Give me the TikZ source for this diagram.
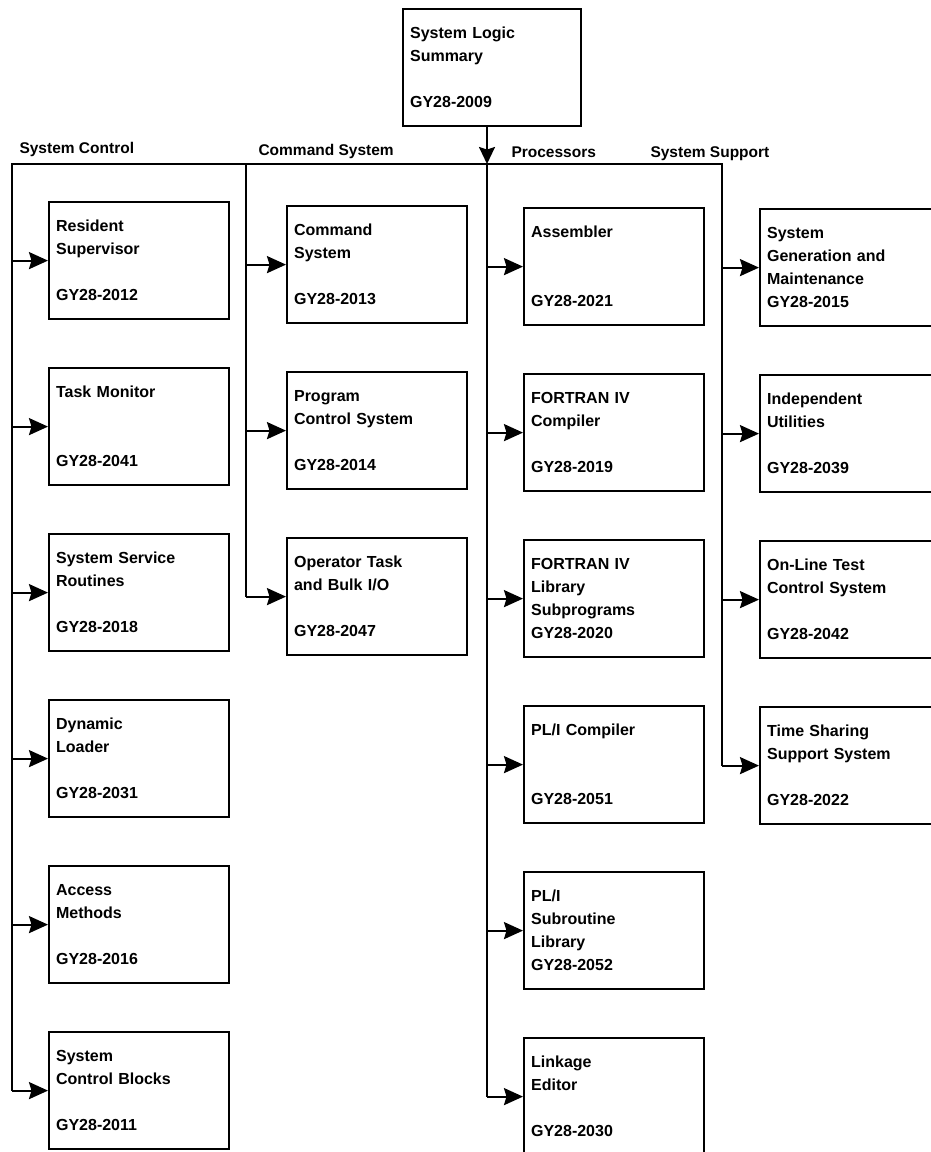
\documentclass[tikz,border=0pt]{standalone}
\usepackage{fontspec}
\setmainfont{Liberation Sans}
\usetikzlibrary{arrows.meta,positioning}

\begin{document}
\begin{tikzpicture}[
  x=1pt, y=-1pt,
  doc/.style={draw, line width=2.2pt, anchor=north west, minimum width=180pt,
              minimum height=117pt, text width=166pt, inner xsep=7pt, align=left,
              font=\fontsize{16}{23}\selectfont\bfseries},
  head/.style={anchor=base west, font=\fontsize{15.5}{18}\selectfont\bfseries},
  wire/.style={line width=2.2pt},
  arr/.style={-{Stealth[length=19pt,width=17pt,inset=2.5pt]}, line width=2.2pt},
  node distance=46.8pt
]
  \useasboundingbox (0,0) rectangle (931,1152);
  \clip (0,0) rectangle (931,1152);

  % summary on top
  \node[doc, minimum width=178pt, text width=164pt] (top) at (402,8)
    {System Logic\\Summary\\[23pt]GY28-2009};

  % bus points
  \coordinate (c1) at (12,164);
  \coordinate (c2) at (246,164);
  \coordinate (c3) at (487,164);
  \coordinate (c4) at (722,164);

  \node[head] (lctl)  at (16,153)  {System Control};
  \node[head] (lcmd)  at (255,155) {Command System};
  \node[head] (lproc) at (508,157) {Processors};
  \node[head] (lsup)  at (647,157) {System Support};

  % system control
  \node[doc] (rs) at (48,201) {Resident\\Supervisor\\[23pt]GY28-2012};
  \node[doc, below=of rs]  (tm)  {Task Monitor\\[46pt]GY28-2041};
  \node[doc, below=of tm]  (ssr) {System Service\\Routines\\[23pt]GY28-2018};
  \node[doc, below=of ssr] (dl)  {Dynamic\\Loader\\[23pt]GY28-2031};
  \node[doc, below=of dl]  (am)  {Access\\Methods\\[23pt]GY28-2016};
  \node[doc, below=of am]  (scb) {System\\Control Blocks\\[23pt]GY28-2011};

  % command system
  \node[doc] (cs) at (286,205) {Command\\System\\[23pt]GY28-2013};
  \node[doc, below=of cs]  (pcs) {Program\\Control System\\[23pt]GY28-2014};
  \node[doc, below=of pcs] (otb) {Operator Task\\and Bulk I/O\\[23pt]GY28-2047};

  % processors
  \node[doc] (asm) at (523,207) {Assembler\\[46pt]GY28-2021};
  \node[doc, below=of asm] (ftc) {FORTRAN IV\\Compiler\\[23pt]GY28-2019};
  \node[doc, below=of ftc] (ftl) {FORTRAN IV\\Library\\Subprograms\\GY28-2020};
  \node[doc, below=of ftl] (plc) {PL/I Compiler\\[46pt]GY28-2051};
  \node[doc, below=of plc] (pls) {PL/I\\Subroutine\\Library\\GY28-2052};
  \node[doc, below=of pls] (lnk) {Linkage\\Editor\\[23pt]GY28-2030};

  % system support
  \node[doc] (sgm) at (759,208) {System\\Generation and\\Maintenance\\GY28-2015};
  \node[doc, below=of sgm] (iu)  {Independent\\Utilities\\[23pt]GY28-2039};
  \node[doc, below=of iu]  (olt) {On-Line Test\\Control System\\[23pt]GY28-2042};
  \node[doc, below=of olt] (tss) {Time Sharing\\Support System\\[23pt]GY28-2022};

  % lines
  \draw[wire] (scb.west -| c1) -- (c1) -- (c4) -- (tss.west -| c4);
  \draw[wire] (c2) -- (otb.west -| c2);
  \draw[wire] (c3) -- (lnk.west -| c3);
  \draw[-{Stealth[length=17pt,width=16pt,inset=2.5pt]}, line width=2.2pt] (top.south -| c3) -- (c3);

  \foreach \n in {rs,tm,ssr,dl,am,scb} \draw[arr] (\n.west -| c1) -- (\n.west);
  \foreach \n in {cs,pcs,otb} \draw[arr] (\n.west -| c2) -- (\n.west);
  \foreach \n in {asm,ftc,ftl,plc,pls,lnk} \draw[arr] (\n.west -| c3) -- (\n.west);
  \foreach \n in {sgm,iu,olt,tss} \draw[arr] (\n.west -| c4) -- (\n.west);
\end{tikzpicture}
\end{document}
